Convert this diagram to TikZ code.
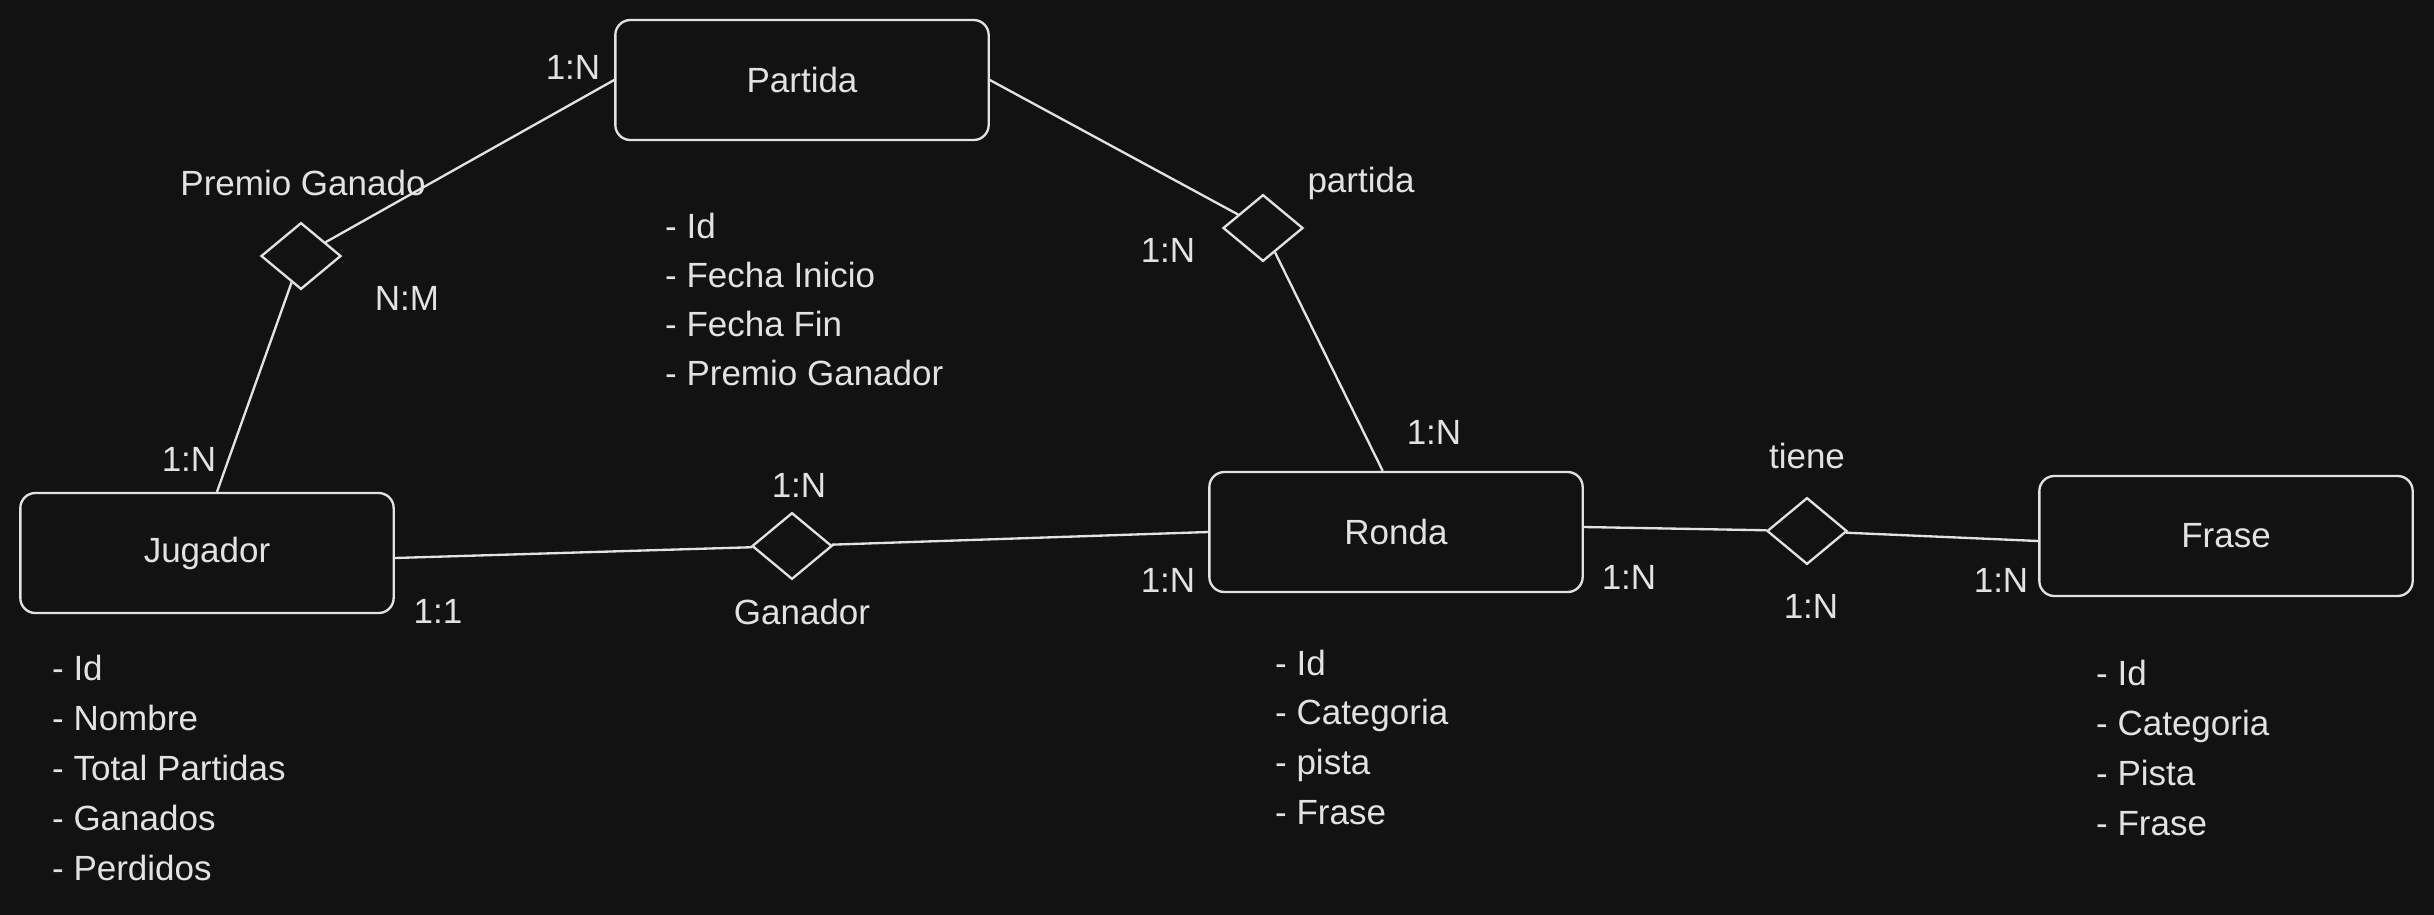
\documentclass[tikz,border=0pt]{standalone}
\usepackage{fontspec}
\setmainfont{Liberation Sans}
\usetikzlibrary{shapes.geometric}

\definecolor{bgdark}{HTML}{121212}
\definecolor{inkwhite}{HTML}{E2E2E2}

\tikzset{
	entity/.style={draw,rectangle,rounded corners=4.5pt,minimum width=112pt,minimum height=36pt,inner sep=0pt},
	relation/.style={draw,diamond,minimum width=24pt,minimum height=20pt,inner sep=0pt},
	card/.style={inner sep=0pt,text height=7.6pt,text depth=0pt},
	attr/.style={card,anchor=west},
}

\begin{document}
\begin{tikzpicture}[x=0.3pt,y=-0.3pt,line width=0.7pt,color=inkwhite,font=\fontsize{10.5}{12}\selectfont]

	\useasboundingbox (0,0) rectangle (2434,914);
	\fill[bgdark] (-20,-20) rectangle (2454,934);

	% entities
	\node[entity] (partida) at (802,80)   {Partida};
	\node[entity] (jugador) at (207,553)  {Jugador};
	\node[entity] (ronda)   at (1396,532) {Ronda};
	\node[entity] (frase)   at (2226,536) {Frase};

	% relations
	\node[relation] (premio)    at (301,256)  {};
	\node[relation] (enpartida) at (1263,228) {};
	\node[relation] (ganador)   at (792,546)  {};
	\node[relation] (tiene)     at (1807,531) {};

	\draw (partida.west) -- (premio);
	\draw (premio) -- ([xshift=3pt]jugador.north);
	\draw (partida.east) -- (enpartida);
	\draw (enpartida) -- ([xshift=-4pt]ronda.north);
	\draw ([yshift=-1.5pt]jugador.east) -- (ganador);
	\draw (ganador) -- (ronda.west);
	\draw ([yshift=1.5pt]ronda.east) -- (tiene);
	\draw (tiene) -- ([yshift=-1.5pt]frase.west);

	% relation names and cardinalities
	\node[card] (lpremio)  at (303,183)  {Premio Ganado};
	\node[card] (lpartida) at (1361,180) {partida};
	\node[card] (lganador) at (802,612)  {Ganador};
	\node[card] (ltiene)   at (1807,456) {tiene};

	\node[card] (card1)  at (573,67)   {1:N};
	\node[card] (card2)  at (407,298)  {N:M};
	\node[card] (card3)  at (189,459)  {1:N};
	\node[card] (card4)  at (438,611)  {1:1};
	\node[card] (card5)  at (799,485)  {1:N};
	\node[card] (card6)  at (1168,580) {1:N};
	\node[card] (card7)  at (1168,250) {1:N};
	\node[card] (card8)  at (1434,432) {1:N};
	\node[card] (card9)  at (1629,577) {1:N};
	\node[card] (card10) at (1811,606) {1:N};
	\node[card] (card11) at (2001,580) {1:N};

	% attributes
	\node[attr] (partida1) at (664,226) {- Id};
	\node[attr] (partida2) at (664,275) {- Fecha Inicio};
	\node[attr] (partida3) at (664,324) {- Fecha Fin};
	\node[attr] (partida4) at (664,373) {- Premio Ganador};

	\node[attr] (jugador1) at (51,668) {- Id};
	\node[attr] (jugador2) at (51,718) {- Nombre};
	\node[attr] (jugador3) at (51,768) {- Total Partidas};
	\node[attr] (jugador4) at (51,818) {- Ganados};
	\node[attr] (jugador5) at (51,868) {- Perdidos};

	\node[attr] (ronda1) at (1274,663) {- Id};
	\node[attr] (ronda2) at (1274,712) {- Categoria};
	\node[attr] (ronda3) at (1274,762) {- pista};
	\node[attr] (ronda4) at (1274,812) {- Frase};

	\node[attr] (frase1) at (2095,673) {- Id};
	\node[attr] (frase2) at (2095,723) {- Categoria};
	\node[attr] (frase3) at (2095,773) {- Pista};
	\node[attr] (frase4) at (2095,823) {- Frase};

\end{tikzpicture}
\end{document}
